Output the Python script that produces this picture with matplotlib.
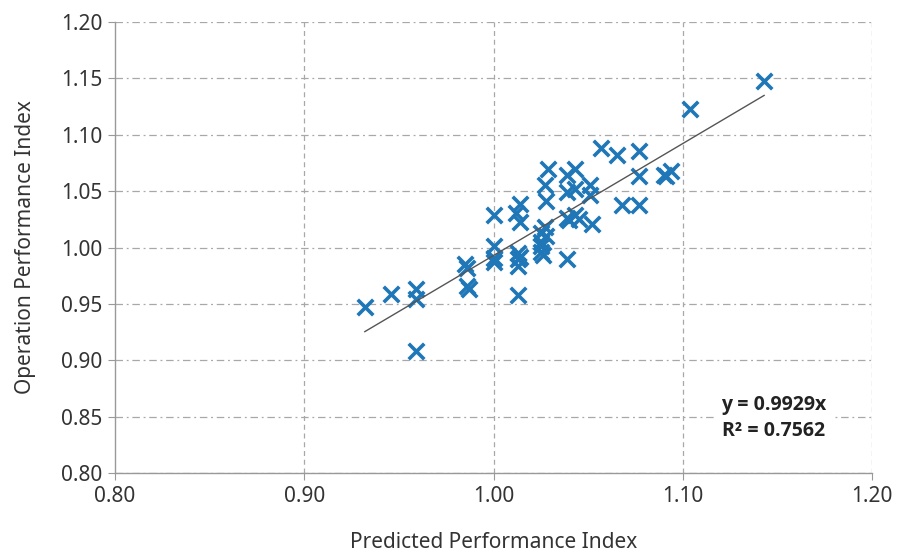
import matplotlib
matplotlib.use("Agg")
import matplotlib.pyplot as plt
import numpy as np

predicted = [0.932, 0.946, 0.959, 0.959, 0.959, 0.985, 0.986, 0.986, 0.987,
             1.000, 1.000, 1.000, 1.000, 1.013, 1.014, 1.012, 1.014, 1.013,
             1.013, 1.013, 1.014, 1.025, 1.025, 1.025, 1.025, 1.026, 1.027,
             1.028, 1.027, 1.028, 1.029, 1.039, 1.039, 1.039, 1.039, 1.043,
             1.043, 1.043, 1.040, 1.045, 1.051, 1.051, 1.052, 1.057, 1.065,
             1.068, 1.077, 1.077, 1.077, 1.090, 1.091, 1.094, 1.104, 1.143]
operation = [0.947, 0.959, 0.963, 0.954, 0.908, 0.985, 0.982, 0.966, 0.963,
             1.029, 1.001, 0.991, 0.987, 0.958, 1.039, 1.031, 1.023, 0.995,
             0.990, 0.984, 0.992, 1.013, 1.005, 1.001, 0.996, 0.993, 1.018,
             1.010, 1.055, 1.041, 1.070, 0.990, 1.026, 1.049, 1.064, 1.070,
             1.052, 1.029, 1.024, 1.025, 1.055, 1.047, 1.021, 1.088, 1.082,
             1.038, 1.086, 1.063, 1.038, 1.064, 1.063, 1.068, 1.123, 1.148]
slope = 0.9929
r2 = 0.7562
x_ticks = [0.80, 0.90, 1.00, 1.10, 1.20]
y_ticks = [0.80, 0.85, 0.90, 0.95, 1.00, 1.05, 1.10, 1.15, 1.20]

plt.rcParams['font.family'] = ['Noto Sans', 'DejaVu Sans']

fig = plt.figure(figsize=(9.07, 5.52), dpi=100)
ax = fig.add_axes([115/907, 1-473/552, (872-115)/907, (473-22)/552])

ax.set_xlim(0.80, 1.20)
ax.set_ylim(0.80, 1.20)
ax.set_xticks(x_ticks)
ax.set_yticks(y_ticks)
ax.set_xticklabels([f"{v:.2f}" for v in x_ticks])
ax.set_yticklabels([f"{v:.2f}" for v in y_ticks])

for v in y_ticks:
    ax.axhline(v, color='#a8a8a8', lw=0.9, ls=(0, (6, 3, 1.5, 3)), zorder=0)
for v in x_ticks[1:]:
    ax.axvline(v, color='#a8a8a8', lw=0.9, ls=(0, (4, 3)), zorder=0)

ax.scatter(predicted, operation, marker='x', s=125, linewidths=2.6,
           color='#1f77b8', zorder=3)

xs = np.array([min(predicted), max(predicted)])
ax.plot(xs, slope * xs, color='#555555', lw=1.0, zorder=4)

ax.text(0.870, 0.122, f"y = {slope}x\nR\u00b2 = {r2}",
        transform=ax.transAxes, ha='center', va='center', fontsize=14,
        fontweight='bold', family=['Open Sans', 'DejaVu Sans'],
        color='#222222', linespacing=1.35,
        bbox=dict(facecolor='white', edgecolor='none', pad=5), zorder=5)

for s in ['top', 'right']:
    ax.spines[s].set_visible(False)
for s in ['left', 'bottom']:
    ax.spines[s].set_color('#999999')
    ax.spines[s].set_linewidth(1.0)
ax.tick_params(axis='both', direction='out', length=5, color='#999999',
               labelsize=15, labelcolor='#333333', pad=4)

ax.set_xlabel('Predicted Performance Index', fontsize=15, color='#333333', labelpad=18)
ax.set_ylabel('Operation Performance Index', fontsize=15, color='#333333', labelpad=18)

fig.savefig('out.png', dpi=100)
